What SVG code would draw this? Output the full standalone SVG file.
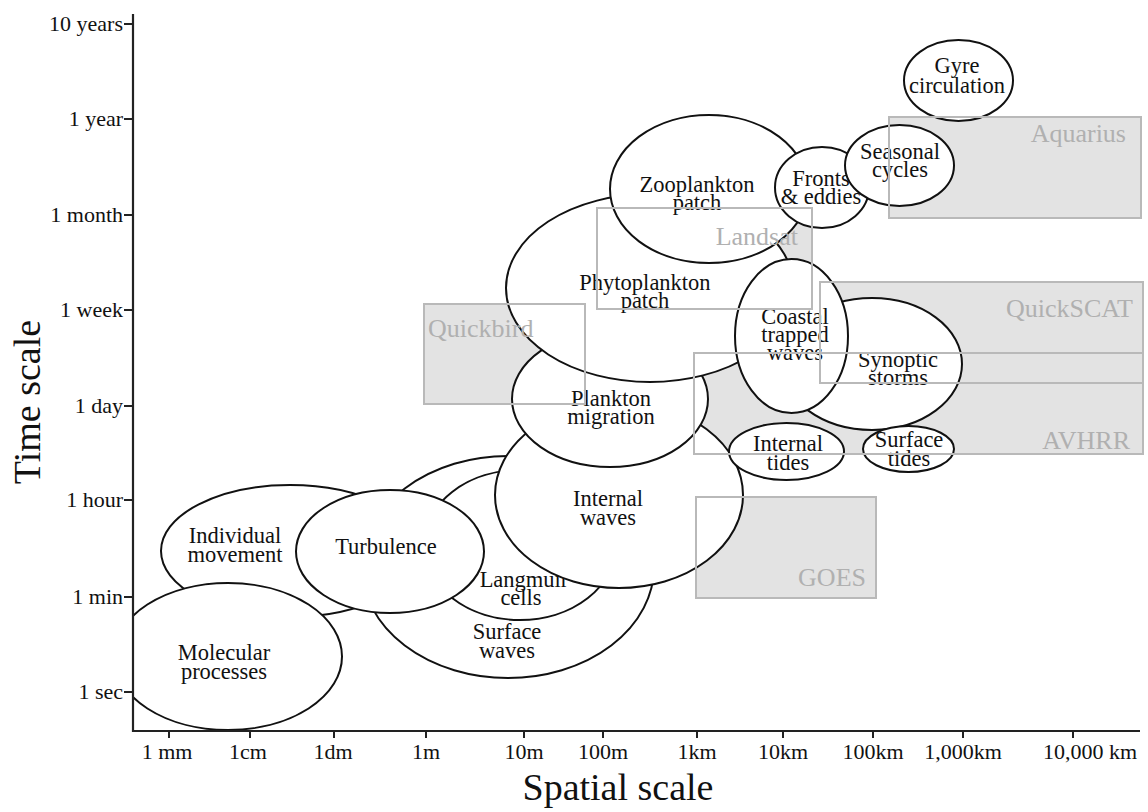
<svg xmlns="http://www.w3.org/2000/svg" width="1148" height="812" viewBox="0 0 1148 812">
<style>
.bg{fill:#ffffff}
.satfill{fill:#e3e3e3;stroke:none}
.satline{fill:none;stroke:#b9b9b9;stroke-width:2}
.satlabel{font-family:"Liberation Serif","Times New Roman",serif;font-size:26px;fill:#b0b0b0}
.node ellipse{fill:#ffffff;stroke:#111111;stroke-width:2}
.node text{font-family:"Liberation Serif","Times New Roman",serif;font-size:22.5px;fill:#111111;text-anchor:middle}
.axis{stroke:#222222;stroke-width:2.2;fill:none}
.tick{stroke:#222222;stroke-width:2}
.ticklabel{font-family:"Liberation Serif","Times New Roman",serif;font-size:22px;fill:#111111}
.ylab{text-anchor:end}
.xlab{text-anchor:middle}
.title{font-family:"Liberation Serif","Times New Roman",serif;font-size:38px;fill:#111111;text-anchor:middle}
</style>
<defs>
<clipPath id="plot"><rect x="133" y="0" width="1015" height="731"/></clipPath>
</defs>
<rect class="bg" x="0" y="0" width="1148" height="812"/>

<g id="satellite-fills">
<rect class="satfill" x="597" y="208" width="215" height="101"/>
<rect class="satfill" x="424" y="304" width="161" height="100"/>
<rect class="satfill" x="889" y="117" width="252" height="101"/>
<rect class="satfill" x="820" y="282" width="323" height="101"/>
<rect class="satfill" x="694" y="353" width="449" height="101"/>
<rect class="satfill" x="696" y="497" width="180" height="101"/>
</g>

<g id="nodes" clip-path="url(#plot)">
<g id="surface-waves" class="node"><ellipse cx="508" cy="567" rx="146" ry="111"/><text x="507" y="639">Surface</text><text x="507" y="658">waves</text></g>
<g id="langmuir-cells" class="node"><ellipse cx="520" cy="545" rx="96" ry="75"/><text x="524" y="587">Langmuir</text><text x="521" y="605">cells</text></g>
<g id="internal-waves" class="node"><ellipse cx="619" cy="495" rx="124" ry="93"/><text x="608" y="506">Internal</text><text x="608" y="525">waves</text></g>
<g id="plankton-migration" class="node"><ellipse cx="610" cy="399" rx="98" ry="68"/><text x="611" y="406">Plankton</text><text x="611" y="424">migration</text></g>
<g id="phytoplankton-patch" class="node"><ellipse cx="650" cy="288" rx="144" ry="94"/><text x="645" y="290">Phytoplankton</text><text x="645" y="308">patch</text></g>
<g id="zooplankton-patch" class="node"><ellipse cx="709" cy="189" rx="99" ry="74"/><text x="697" y="192">Zooplankton</text><text x="697" y="210">patch</text></g>
<g id="fronts-eddies" class="node"><ellipse cx="822" cy="187.5" rx="47" ry="40.5"/><text x="821" y="186">Fronts</text><text x="821" y="204">&amp; eddies</text></g>
<g id="seasonal-cycles" class="node"><ellipse cx="899.5" cy="165.5" rx="54.5" ry="40.5"/><text x="900" y="159">Seasonal</text><text x="900" y="177">cycles</text></g>
<g id="gyre-circulation" class="node"><ellipse cx="958.5" cy="80.5" rx="54.5" ry="40.5"/><text x="957" y="73">Gyre</text><text x="957" y="92.5">circulation</text></g>
<g id="synoptic-storms" class="node"><ellipse cx="872" cy="364" rx="90" ry="66"/><text x="898" y="366.5">Synoptic</text><text x="898" y="385">storms</text></g>
<g id="coastal-trapped-waves" class="node"><ellipse cx="791.5" cy="336" rx="56.5" ry="77"/><text x="795" y="323.5">Coastal</text><text x="795" y="341.5">trapped</text><text x="795" y="360">waves</text></g>
<g id="internal-tides" class="node"><ellipse cx="786.5" cy="451.5" rx="57.5" ry="28.5"/><text x="788" y="451">Internal</text><text x="788" y="470">tides</text></g>
<g id="surface-tides" class="node"><ellipse cx="908.5" cy="449" rx="45.5" ry="23"/><text x="909" y="447">Surface</text><text x="909" y="466">tides</text></g>
<g id="individual-movement" class="node"><ellipse cx="290" cy="551" rx="129" ry="66"/><text x="235" y="543">Individual</text><text x="235" y="562">movement</text></g>
<g id="turbulence" class="node"><ellipse cx="390" cy="551.5" rx="94" ry="61.5"/><text x="386" y="554">Turbulence</text></g>
<g id="molecular-processes" class="node"><ellipse cx="228" cy="656.5" rx="114" ry="73.5"/><text x="224" y="660">Molecular</text><text x="224" y="678.5">processes</text></g>
</g>

<g id="satellites">
<g id="landsat"><rect class="satline" x="597" y="208" width="215" height="101"/><text class="satlabel" x="798" y="245" text-anchor="end">Landsat</text></g>
<g id="quickbird"><rect class="satline" x="424" y="304" width="161" height="100"/><text class="satlabel" x="428" y="337">Quickbird</text></g>
<g id="aquarius"><rect class="satline" x="889" y="117" width="252" height="101"/><text class="satlabel" x="1126" y="142" text-anchor="end">Aquarius</text></g>
<g id="quickscat"><rect class="satline" x="820" y="282" width="323" height="101"/><text class="satlabel" x="1133" y="317" text-anchor="end">QuickSCAT</text></g>
<g id="avhrr"><rect class="satline" x="694" y="353" width="449" height="101"/><text class="satlabel" x="1130" y="449" text-anchor="end">AVHRR</text></g>
<g id="goes"><rect class="satline" x="696" y="497" width="180" height="101"/><text class="satlabel" x="866" y="586" text-anchor="end">GOES</text></g>
</g>

<g id="axes">
<path class="axis" d="M133 14 V731 H1140"/>
<g class="tick">
<line x1="124" y1="24" x2="133" y2="24"/>
<line x1="124" y1="119" x2="133" y2="119"/>
<line x1="124" y1="215" x2="133" y2="215"/>
<line x1="124" y1="310" x2="133" y2="310"/>
<line x1="124" y1="406" x2="133" y2="406"/>
<line x1="124" y1="500" x2="133" y2="500"/>
<line x1="124" y1="597" x2="133" y2="597"/>
<line x1="124" y1="692" x2="133" y2="692"/>
<line x1="169" y1="731" x2="169" y2="738"/>
<line x1="250" y1="731" x2="250" y2="738"/>
<line x1="334" y1="731" x2="334" y2="738"/>
<line x1="426" y1="731" x2="426" y2="738"/>
<line x1="524" y1="731" x2="524" y2="738"/>
<line x1="603" y1="731" x2="603" y2="738"/>
<line x1="697" y1="731" x2="697" y2="738"/>
<line x1="783" y1="731" x2="783" y2="738"/>
<line x1="873" y1="731" x2="873" y2="738"/>
<line x1="963" y1="731" x2="963" y2="738"/>
<line x1="1073" y1="731" x2="1073" y2="738"/>
</g>
<g class="ticklabel ylab">
<text x="123" y="31">10 years</text>
<text x="123" y="126">1 year</text>
<text x="123" y="222">1 month</text>
<text x="123" y="317">1 week</text>
<text x="123" y="413">1 day</text>
<text x="123" y="507">1 hour</text>
<text x="123" y="604">1 min</text>
<text x="123" y="699">1 sec</text>
</g>
<g class="ticklabel xlab">
<text x="167" y="759">1 mm</text>
<text x="248" y="759">1cm</text>
<text x="333" y="759">1dm</text>
<text x="426" y="759">1m</text>
<text x="524" y="759">10m</text>
<text x="603" y="759">100m</text>
<text x="697" y="759">1km</text>
<text x="783" y="759">10km</text>
<text x="873" y="759">100km</text>
<text x="963" y="759">1,000km</text>
<text x="1090" y="759">10,000 km</text>
</g>
<text class="title" x="618" y="800">Spatial scale</text>
<text class="title" transform="translate(40 402) rotate(-90)">Time scale</text>
</g>
</svg>
